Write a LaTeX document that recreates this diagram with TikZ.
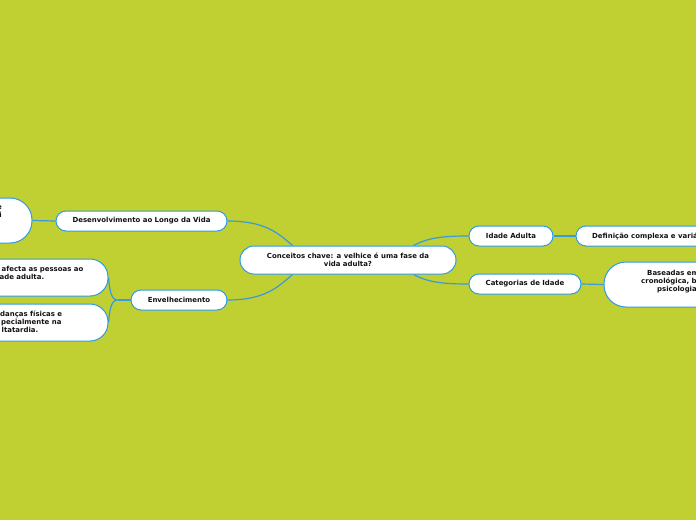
\documentclass[tikz,border=0pt]{standalone}
\usepackage{fontspec}
\setmainfont{DejaVu Sans}
\definecolor{bg}{HTML}{C0CF32}
\definecolor{edge}{HTML}{3A9ADB}
\definecolor{bord}{HTML}{2F9BE2}
\definecolor{txt}{HTML}{111111}
\pgfdeclarelayer{back}
\pgfsetlayers{back,main}
\tikzset{
  box/.style={draw=bord, line width=1pt, fill=white, inner sep=0pt},
  lbl/.style={font=\fontsize{6.95}{8}\selectfont\bfseries, text=txt, inner sep=0pt, align=center},
  lblw/.style={lbl, anchor=base west, align=left},
  conn/.style={draw=edge, line width=1.2pt},
}
\begin{document}
\begin{tikzpicture}[x=1pt,y=-1pt]
\useasboundingbox (0,0) rectangle (696,520);
\begin{pgfonlayer}{back}
\fill[bg] (0,0) rectangle (696,520);
\end{pgfonlayer}
\clip (0,0) rectangle (696,520);

% nodes
\node[box, rounded corners=14pt, minimum width=216pt, minimum height=28pt] (center) at (348,260) {};
\node[lbl] (centerT) at (348,260) {Conceitos chave: a velhice é uma fase da\\vida adulta?};

\node[box, rounded corners=10pt, minimum width=171pt, minimum height=20pt] (desenv) at (141.5,221) {};
\node[lbl] (desenvT) at (141.5,221) {Desenvolvimento ao Longo da Vida};

\node[box, rounded corners=10pt, minimum width=96pt, minimum height=20pt] (envel) at (179,300) {};
\node[lbl] (envelT) at (179,300) {Envelhecimento};

\node[box, rounded corners=22pt, minimum width=150pt, minimum height=45pt] (left1) at (-43,220.5) {};
\node[box, rounded corners=18pt, minimum width=200pt, minimum height=37pt] (left2) at (8,277.5) {};
\node[box, rounded corners=18pt, minimum width=200pt, minimum height=37pt] (left3) at (8,322.5) {};

\node[box, rounded corners=10pt, minimum width=84pt, minimum height=20pt] (idade) at (511,236) {};
\node[lbl] (idadeT) at (511,236) {Idade Adulta};

\node[box, rounded corners=10pt, minimum width=200pt, minimum height=20pt] (defin) at (676,236) {};
\node[box, rounded corners=10pt, minimum width=112pt, minimum height=20pt] (categ) at (525,284) {};
\node[lbl] (categT) at (525,284) {Categorias de Idade};

\node[box, rounded corners=22pt, minimum width=200pt, minimum height=45pt] (basead) at (704,284.5) {};

% clipped texts
\node[lblw] (d1) at (592,238.5) {Definição complexa e variável};
\node[lblw] (b1) at (647,275.5) {Baseadas em idade};
\node[lblw] (b2) at (641,283.5) {cronológica, biológica,};
\node[lblw] (b3) at (657,291.5) {psicologia e social};

\node[lblw] (l2a) at (1.5,271.5) {afecta as pessoas ao};
\node[lblw] (l2b) at (-0.5,279.5) {ade adulta.};
\node[lblw] (l3a) at (0,316.5) {danças físicas e};
\node[lblw] (l3b) at (1,324.5) {pecialmente na};
\node[lblw] (l3c) at (1.5,332.5) {ltatardia.};
\node[lbl, anchor=base east] (l1a) at (2,209.5) {e};
\node[lbl, anchor=base east] (l1b) at (2,217.5) {i};

% connectors
\begin{pgfonlayer}{back}
\coordinate (cTL) at ([xshift=53pt]center.north west);
\coordinate (cBL) at ([xshift=53pt]center.south west);
\coordinate (cTR) at ([xshift=-43pt]center.north east);
\coordinate (cBR) at ([xshift=-43pt]center.south east);
\coordinate (jn) at ([xshift=-13pt]envel.west);
\draw[conn] (desenv.east) .. controls +(38,0) and +(-14,-12) .. (cTL);
\draw[conn] (envel.east) .. controls +(38,0) and +(-14,12) .. (cBL);
\draw[conn] (cTR) .. controls +(15,-8) and +(-25,0) .. (idade.west);
\draw[conn] (cBR) .. controls +(15,8) and +(-25,0) .. (categ.west);
\draw[conn] (idade.east) -- (defin.west);
\draw[conn] (categ.east) -- (basead.west);
\draw[conn] (desenv.west) -- (left1.east);
\draw[conn] (envel.west) -- (jn);
\draw[conn] (jn) .. controls +(-7,0) and +(1,10) .. (left2.east);
\draw[conn] (jn) .. controls +(-7,0) and +(1,-10) .. (left3.east);
\end{pgfonlayer}
\end{tikzpicture}
\end{document}
